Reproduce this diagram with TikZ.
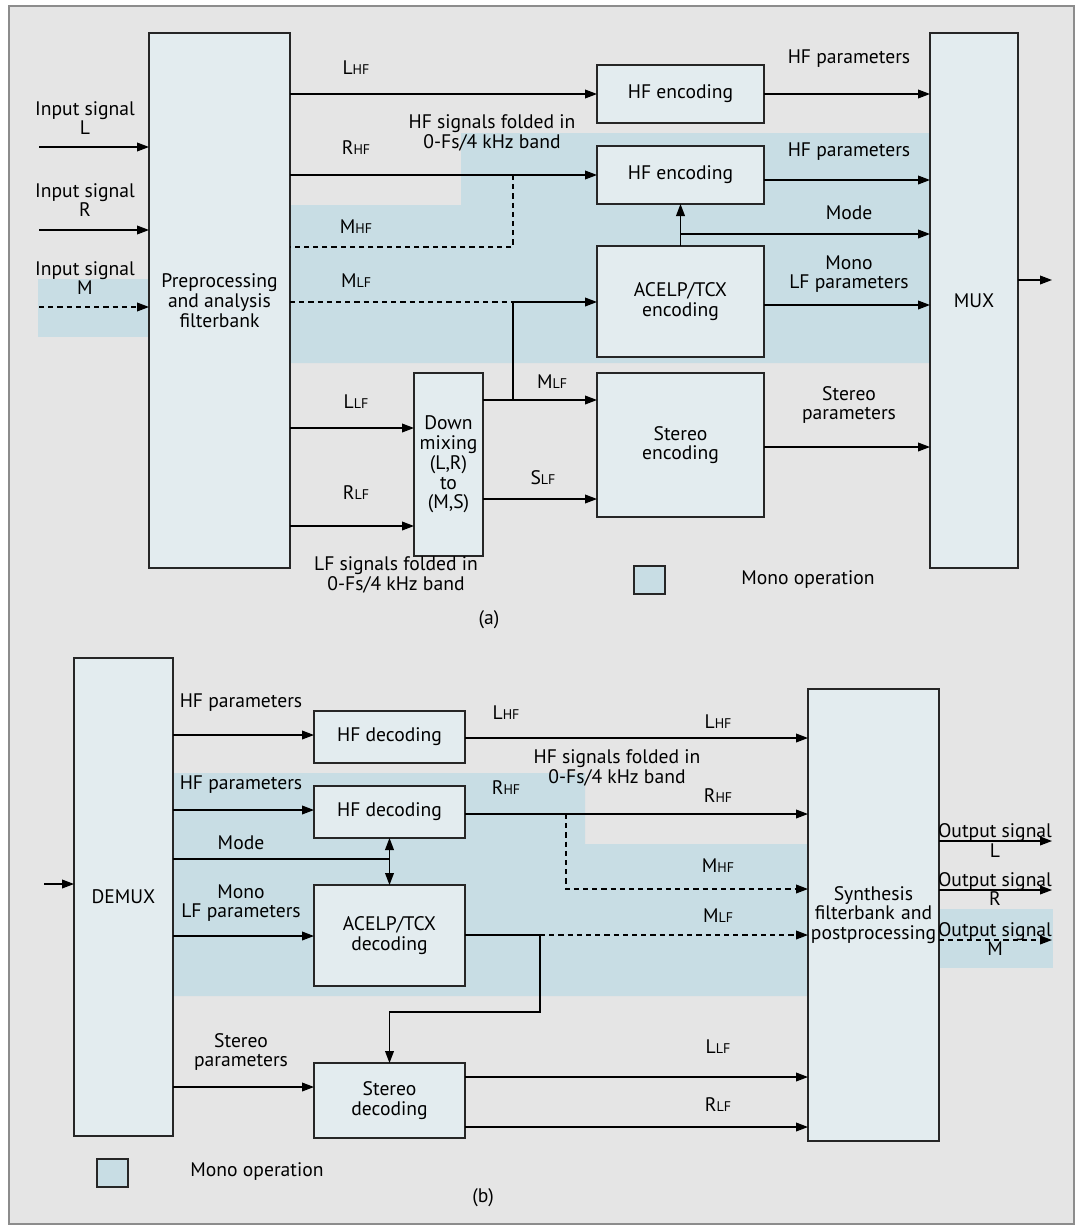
\documentclass[tikz,border=0pt]{standalone}
\usepackage{fontspec}
\setmainfont{PT Sans}
\usetikzlibrary{arrows.meta}

\definecolor{panelgray}{HTML}{E5E5E5}
\definecolor{boxfill}{HTML}{E3ECEF}
\definecolor{monoblue}{HTML}{C8DDE4}

\newcommand{\chan}[2]{#1{\fontsize{7}{7.5}\selectfont #2}}

\tikzset{
	blk/.style={draw=black!85, fill=boxfill, line width=0.75pt, inner sep=0pt, outer sep=0pt, align=center},
	arr/.style={line width=0.6pt, -{Triangle[length=6pt,width=4.4pt]}},
	dsh/.style={dash pattern=on 2.6pt off 2pt},
	lbl/.style={inner sep=0pt, align=center},
}

\begin{document}
\begin{tikzpicture}[x=0.5pt, y=-0.5pt, font=\fontsize{9.8}{9.9}\selectfont, line width=0.6pt]

	\useasboundingbox (0,0) rectangle (1077,1226);
	\draw[draw=black!45, fill=panelgray, line width=0.6pt] (9,6) rectangle (1074,1224);

	% mono operation areas
	\fill[monoblue] (38,279) rectangle (149,337);
	\fill[monoblue] (290,205) -- (461,205) -- (461,133) -- (930,133) -- (930,363) -- (290,363) -- cycle;
	\fill[monoblue] (173,773) -- (585,773) -- (585,844) -- (808,844) -- (808,996) -- (173,996) -- cycle;
	\fill[monoblue] (936,909) rectangle (1053,968);

	% (a) encoder
	\node[blk, minimum width=70.5pt, minimum height=267.5pt] (pre) at (219.5,300.5) {Preprocessing\\and analysis\\filterbank};
	\node[blk, minimum width=83.5pt, minimum height=29pt] (hfencA) at (680.5,94) {HF encoding};
	\node[blk, minimum width=83.5pt, minimum height=29pt] (hfencB) at (680.5,175) {HF encoding};
	\node[blk, minimum width=83.5pt, minimum height=55.5pt] (acelpenc) at (680.5,301.5) {ACELP/TCX\\encoding};
	\node[blk, minimum width=34.5pt, minimum height=91.5pt, text width=34.5pt] (downmix) at (448.5,464.5) {Down\\mixing\\(L,R)\\to\\(M,S)};
	\node[blk, minimum width=83.5pt, minimum height=72pt] (stereoenc) at (680.5,445) {Stereo\\encoding};
	\node[blk, minimum width=44pt, minimum height=267.5pt] (mux) at (974,300.5) {MUX};
	\node[blk, fill=monoblue, minimum width=15.5pt, minimum height=14pt] (legA) at (649.5,580) {};

	\coordinate (srcL) at (39,147);
	\coordinate (srcR) at (39,230);
	\coordinate (srcM) at (39,307);
	\coordinate (tapH) at (513,175);
	\coordinate (tapL) at (513,302);
	\coordinate (muxout) at (1052,280);

	\node[lbl] (inL) at (85,118) {Input signal\\L};
	\node[lbl] (inR) at (85,200) {Input signal\\R};
	\node[lbl] (inM) at (85,278) {Input signal\\M};
	\node[lbl] (lhfA) at (356,68) {\chan{L}{HF}};
	\node[lbl] (rhfA) at (356,148) {\chan{R}{HF}};
	\node[lbl] (mhfA) at (356,227) {\chan{M}{HF}};
	\node[lbl] (mlfA) at (356,281) {\chan{M}{LF}};
	\node[lbl] (llfA) at (356,402) {\chan{L}{LF}};
	\node[lbl] (rlfA) at (356,493) {\chan{R}{LF}};
	\node[lbl] (mlfB) at (552,382) {\chan{M}{LF}};
	\node[lbl] (slfA) at (543,478) {\chan{S}{LF}};
	\node[lbl] (hffoldA) at (492,133) {HF signals folded in\\0-Fs/4 kHz band};
	\node[lbl] (lffoldA) at (396,575) {LF signals folded in\\0-Fs/4 kHz band};
	\node[lbl] (hfparA) at (849,59) {HF parameters};
	\node[lbl] (hfparB) at (849,152) {HF parameters};
	\node[lbl] (modeA) at (849,213) {Mode};
	\node[lbl] (monoA) at (849,274) {Mono\\LF parameters};
	\node[lbl] (stparA) at (849,405) {Stereo\\parameters};
	\node[lbl] (legtxtA) at (808,580) {Mono operation};
	\node[lbl] (capA) at (489,620) {(a)};

	\draw[arr] (srcL) -- (pre.west |- srcL);
	\draw[arr] (srcR) -- (pre.west |- srcR);
	\draw[arr, dsh] (srcM) -- (pre.west |- srcM);
	\draw[arr] (pre.east |- hfencA) -- (hfencA.west);
	\draw[arr] (pre.east |- hfencB) -- (hfencB.west);
	\draw[dsh] (tapH) -- (tapH |- 0,247) -- (pre.east |- 0,247);
	\draw[dsh] (pre.east |- tapL) -- (tapL);
	\draw[arr] (tapL) -- (acelpenc.west |- tapL);
	\draw (tapL) -- (tapL |- 0,400);
	\draw[arr] (downmix.east |- 0,400) -- (stereoenc.west |- 0,400);
	\draw[arr] (downmix.east |- 0,499) -- (stereoenc.west |- 0,499);
	\draw[arr] (pre.east |- 0,428) -- (downmix.west |- 0,428);
	\draw[arr] (pre.east |- 0,526) -- (downmix.west |- 0,526);
	\foreach \n / \y in {hfencA/94, hfencB/180, acelpenc/305, stereoenc/447}
	{
		\draw[arr] (\n.east |- 0,\y) -- (mux.west |- 0,\y);
	};
	\draw[arr] (acelpenc.north) -- (hfencB.south);
	\draw[arr] (acelpenc.north |- 0,234) -- (mux.west |- 0,234);
	\draw[arr] (mux.east |- muxout) -- (muxout);

	% (b) decoder
	\node[blk, minimum width=49.5pt, minimum height=239pt] (demux) at (123.5,897) {DEMUX};
	\node[blk, minimum width=75.5pt, minimum height=26pt] (hfdecA) at (389.5,737) {HF decoding};
	\node[blk, minimum width=75.5pt, minimum height=26pt] (hfdecB) at (389.5,812) {HF decoding};
	\node[blk, minimum width=75.5pt, minimum height=50.5pt] (acelpdec) at (389.5,935.5) {ACELP/TCX\\decoding};
	\node[blk, minimum width=75.5pt, minimum height=37.5pt] (stereodec) at (389.5,1100.5) {Stereo\\decoding};
	\node[blk, minimum width=65.5pt, minimum height=226pt, text width=65.5pt] (synth) at (873.5,915) {Synthesis\\filterbank and\\postprocessing};
	\node[blk, fill=monoblue, minimum width=15.5pt, minimum height=14pt] (legB) at (112.5,1173) {};

	\coordinate (demuxin) at (44,884);
	\coordinate (tapD) at (566,814);
	\coordinate (tapE) at (540,935);
	\coordinate (outL) at (1052,841);
	\coordinate (outR) at (1052,890);
	\coordinate (outM) at (1052,940);

	\node[lbl] (hfparC) at (241,703) {HF parameters};
	\node[lbl] (hfparD) at (241,785) {HF parameters};
	\node[lbl] (modeB) at (241,843) {Mode};
	\node[lbl] (monoB) at (241,903) {Mono\\LF parameters};
	\node[lbl] (stparB) at (241,1052) {Stereo\\parameters};
	\node[lbl] (lhfB) at (506,713) {\chan{L}{HF}};
	\node[lbl] (rhfB) at (506,788) {\chan{R}{HF}};
	\node[lbl] (lhfC) at (718,722) {\chan{L}{HF}};
	\node[lbl] (rhfC) at (718,796) {\chan{R}{HF}};
	\node[lbl] (mhfB) at (718,866) {\chan{M}{HF}};
	\node[lbl] (mlfC) at (718,916) {\chan{M}{LF}};
	\node[lbl] (llfB) at (718,1047) {\chan{L}{LF}};
	\node[lbl] (rlfB) at (718,1105) {\chan{R}{LF}};
	\node[lbl] (hffoldB) at (617,768) {HF signals folded in\\0-Fs/4 kHz band};
	\node[lbl] (outtxtL) at (995,840.5) {Output signal\\L};
	\node[lbl] (outtxtR) at (995,889) {Output signal\\R};
	\node[lbl] (outtxtM) at (995,939) {Output signal\\M};
	\node[lbl] (legtxtB) at (257,1172) {Mono operation};
	\node[lbl] (capB) at (483,1198) {(b)};

	\draw[arr] (demuxin) -- (demux.west |- demuxin);
	\foreach \n / \y in {hfdecA/735, hfdecB/810, acelpdec/936, stereodec/1087}
	{
		\draw[arr] (demux.east |- 0,\y) -- (\n.west |- 0,\y);
	};
	\draw (demux.east |- 0,859) -- (hfdecB.south |- 0,859);
	\draw[arr] (hfdecB.south |- 0,859) -- (hfdecB.south);
	\draw[arr] (hfdecB.south |- 0,859) -- (acelpdec.north);
	\draw[arr] (hfdecA.east |- 0,738) -- (synth.west |- 0,738);
	\draw[arr] (hfdecB.east |- tapD) -- (synth.west |- tapD);
	\draw[arr, dsh] (tapD) -- (tapD |- 0,889) -- (synth.west |- 0,889);
	\draw (acelpdec.east |- tapE) -- (tapE);
	\draw[arr, dsh] (tapE) -- (synth.west |- tapE);
	\draw[arr] (tapE) -- (tapE |- 0,1012) -- (stereodec.north |- 0,1012) -- (stereodec.north);
	\draw[arr] (stereodec.east |- 0,1077) -- (synth.west |- 0,1077);
	\draw[arr] (stereodec.east |- 0,1127) -- (synth.west |- 0,1127);
	\draw[arr] (synth.east |- outL) -- (outL);
	\draw[arr] (synth.east |- outR) -- (outR);
	\draw[arr, dsh] (synth.east |- outM) -- (outM);

\end{tikzpicture}
\end{document}
